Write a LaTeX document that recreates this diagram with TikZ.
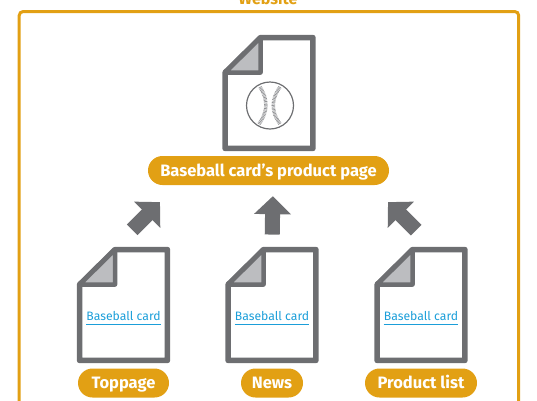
\documentclass[tikz,border=0pt]{standalone}
\usepackage{fontspec}
\setmainfont{Fira Sans}
\usepackage{tikz}
\usetikzlibrary{arrows.meta, positioning, calc}
\definecolor{frameorange}{HTML}{E2A014}
\definecolor{docgray}{HTML}{6D6E71}
\definecolor{foldgray}{HTML}{BCBDC0}
\definecolor{linkblue}{HTML}{1B9ED9}
\tikzset{
    docbox/.style={rectangle, minimum width=87.5pt, minimum height=110.5pt, inner sep=0pt},
    docline/.style={draw=docgray, line width=5.5pt, line join=round},
    pill/.style={rectangle, fill=frameorange, rounded corners=14.5pt, minimum height=29pt, inner sep=0pt, align=center, text height=13.5pt, text depth=2pt, font=\fontsize{16.5}{18}\selectfont\bfseries, text=white},
    linktext/.style={inner sep=0pt, minimum width=74pt, minimum height=14pt, font=\fontsize{12.2}{14}\selectfont, text=linkblue},
    blockarrow/.style={-{Triangle[length=18pt,width=36pt]}, line width=15pt, draw=docgray}
}
% page outline with the folded corner
\newcommand{\docshape}[1]{
    \draw[docline] ([yshift=-35pt]#1.north west) -- ([xshift=35.5pt]#1.north west) -- (#1.north east) -- (#1.south east) -- (#1.south west) -- cycle;
    \draw[docline, line width=4.5pt, fill=foldgray] ([yshift=-35pt]#1.north west) -- ([xshift=35.5pt]#1.north west) -- ([xshift=35.5pt,yshift=-35pt]#1.north west) -- cycle;
}
\begin{document}
\begin{tikzpicture}[x=1pt, y=-1pt]
    \useasboundingbox (0,0) rectangle (537,400);
    \node[rectangle, draw=frameorange, line width=3pt, rounded corners=4pt, minimum width=499.5pt, minimum height=420pt, anchor=north west, inner sep=0pt] (site) at (17.7,10) {};
    \node[font=\fontsize{16}{18}\selectfont\bfseries, text=frameorange, inner sep=0pt] (sitelabel) at (268,-2) {Website};

    \node[docbox] (pagedoc) at (269,93) {};
    \docshape{pagedoc}
    \node[circle, draw=docgray, line width=1.2pt, minimum size=47pt, inner sep=0pt] (ball) at (270,105.5) {};
    \draw[draw=docgray!75, line width=3.5pt, dash pattern=on 0.7pt off 0.7pt] (260,87) .. controls (268,99) and (268,112) .. (259,124);
    \draw[draw=docgray!75, line width=3.5pt, dash pattern=on 0.7pt off 0.7pt] (280,87) .. controls (271,99) and (271,112) .. (280,124);
    \node[pill, minimum width=241pt] (page) at (268.5,170.5) {Baseball card's product page};

    \foreach \n/\x/\w/\t in {top/123.5/91/Toppage, news/272/62/News, list/421/112/Product list} {
        \node[docbox] (\n doc) at (\x,305) {};
        \docshape{\n doc}
        \node[linktext] (\n link) at (\x,316) {Baseball card};
        \draw[linkblue, line width=1pt] ([yshift=-1pt]\n link.south west) -- ([yshift=-1pt]\n link.south east);
        \node[pill, minimum width=\w pt] (\n) at (\x,383) {\t};
    }

    \draw[blockarrow, shorten <=28pt, shorten >=24pt] ([xshift=-11.25pt]topdoc.north) -- ([xshift=-91.5pt]page.south);
    \draw[blockarrow, shorten <=15pt, shorten >=11pt] (newsdoc.north) -- ([xshift=4.5pt]page.south);
    \draw[blockarrow, shorten <=27.5pt, shorten >=24pt] ([xshift=14.75pt]listdoc.north) -- ([xshift=102.5pt]page.south);
\end{tikzpicture}
\end{document}
